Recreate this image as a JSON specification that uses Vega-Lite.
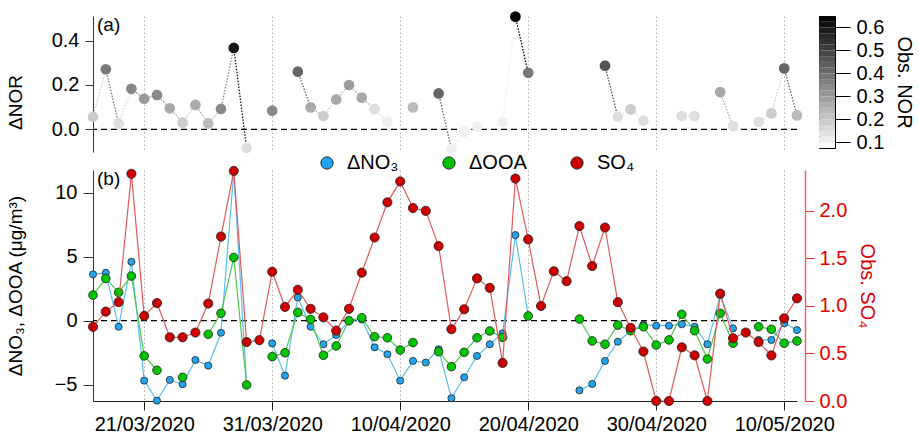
{
  "$schema": "https://vega.github.io/schema/vega-lite/v6.json",
  "autosize": "none",
  "padding": {"left": 93, "top": 16, "right": 826, "bottom": 421},
  "bounds": "flush",
  "columns": 2,
  "spacing": {"row": 18, "column": 22},
  "config": {
    "font": "Liberation Sans",
    "view": {"stroke": null},
    "axis": {"labelFontSize": 20, "titleFontSize": 19, "titleFontWeight": "normal", "labelColor": "#000", "titleColor": "#000", "domainColor": "#333", "tickColor": "#333"},
    "legend": {"labelFontSize": 20, "titleFontSize": 20, "titleFontWeight": "normal", "labelColor": "#000", "titleColor": "#000"}
  },
  "datasets": {
    "nor": [
      {"date": "2020-03-17", "nor": 0.057, "obs": 0.19},
      {"date": "2020-03-18", "nor": 0.271, "obs": 0.38},
      {"date": "2020-03-19", "nor": 0.027, "obs": 0.15},
      {"date": "2020-03-20", "nor": 0.183, "obs": 0.345},
      {"date": "2020-03-21", "nor": 0.138, "obs": 0.305},
      {"date": "2020-03-22", "nor": 0.155, "obs": 0.34},
      {"date": "2020-03-23", "nor": 0.095, "obs": 0.27},
      {"date": "2020-03-24", "nor": 0.03, "obs": 0.19},
      {"date": "2020-03-25", "nor": 0.11, "obs": 0.27},
      {"date": "2020-03-26", "nor": 0.027, "obs": 0.23},
      {"date": "2020-03-27", "nor": 0.092, "obs": 0.34},
      {"date": "2020-03-28", "nor": 0.367, "obs": 0.61},
      {"date": "2020-03-29", "nor": -0.083, "obs": 0.15},
      {"date": "2020-03-30", "nor": null},
      {"date": "2020-03-31", "nor": 0.084, "obs": 0.34},
      {"date": "2020-04-01", "nor": null},
      {"date": "2020-04-02", "nor": 0.26, "obs": 0.42},
      {"date": "2020-04-03", "nor": 0.099, "obs": 0.27},
      {"date": "2020-04-04", "nor": 0.06, "obs": 0.19},
      {"date": "2020-04-05", "nor": 0.135, "obs": 0.27},
      {"date": "2020-04-06", "nor": 0.2, "obs": 0.3},
      {"date": "2020-04-07", "nor": 0.143, "obs": 0.27},
      {"date": "2020-04-08", "nor": 0.092, "obs": 0.15},
      {"date": "2020-04-09", "nor": 0.034, "obs": 0.11},
      {"date": "2020-04-10", "nor": null},
      {"date": "2020-04-11", "nor": 0.099, "obs": 0.23},
      {"date": "2020-04-12", "nor": null},
      {"date": "2020-04-13", "nor": 0.162, "obs": 0.42},
      {"date": "2020-04-14", "nor": -0.089, "obs": 0.11},
      {"date": "2020-04-15", "nor": -0.011, "obs": 0.11},
      {"date": "2020-04-16", "nor": 0.012, "obs": 0.11},
      {"date": "2020-04-17", "nor": null},
      {"date": "2020-04-18", "nor": 0.034, "obs": 0.11},
      {"date": "2020-04-19", "nor": 0.508, "obs": 0.65},
      {"date": "2020-04-20", "nor": 0.255, "obs": 0.38},
      {"date": "2020-04-21", "nor": null},
      {"date": "2020-04-22", "nor": null},
      {"date": "2020-04-23", "nor": null},
      {"date": "2020-04-24", "nor": null},
      {"date": "2020-04-25", "nor": null},
      {"date": "2020-04-26", "nor": 0.287, "obs": 0.46},
      {"date": "2020-04-27", "nor": 0.057, "obs": 0.15},
      {"date": "2020-04-28", "nor": 0.09, "obs": 0.19},
      {"date": "2020-04-29", "nor": 0.039, "obs": 0.15},
      {"date": "2020-04-30", "nor": null},
      {"date": "2020-05-01", "nor": null},
      {"date": "2020-05-02", "nor": 0.06, "obs": 0.15},
      {"date": "2020-05-03", "nor": 0.06, "obs": 0.15},
      {"date": "2020-05-04", "nor": null},
      {"date": "2020-05-05", "nor": 0.168, "obs": 0.27},
      {"date": "2020-05-06", "nor": 0.015, "obs": 0.15},
      {"date": "2020-05-07", "nor": null},
      {"date": "2020-05-08", "nor": 0.034, "obs": 0.15},
      {"date": "2020-05-09", "nor": 0.072, "obs": 0.19},
      {"date": "2020-05-10", "nor": 0.275, "obs": 0.42},
      {"date": "2020-05-11", "nor": 0.063, "obs": 0.23}
    ],
    "cbar": [
      {"lo": 0.075, "hi": 0.1, "c": 0.0875},
      {"lo": 0.1, "hi": 0.125, "c": 0.1125},
      {"lo": 0.125, "hi": 0.15, "c": 0.1375},
      {"lo": 0.15, "hi": 0.175, "c": 0.1625},
      {"lo": 0.175, "hi": 0.2, "c": 0.1875},
      {"lo": 0.2, "hi": 0.225, "c": 0.2125},
      {"lo": 0.225, "hi": 0.25, "c": 0.2375},
      {"lo": 0.25, "hi": 0.275, "c": 0.2625},
      {"lo": 0.275, "hi": 0.3, "c": 0.2875},
      {"lo": 0.3, "hi": 0.325, "c": 0.3125},
      {"lo": 0.325, "hi": 0.35, "c": 0.3375},
      {"lo": 0.35, "hi": 0.375, "c": 0.3625},
      {"lo": 0.375, "hi": 0.4, "c": 0.3875},
      {"lo": 0.4, "hi": 0.425, "c": 0.4125},
      {"lo": 0.425, "hi": 0.45, "c": 0.4375},
      {"lo": 0.45, "hi": 0.475, "c": 0.4625},
      {"lo": 0.475, "hi": 0.5, "c": 0.4875},
      {"lo": 0.5, "hi": 0.525, "c": 0.5125},
      {"lo": 0.525, "hi": 0.55, "c": 0.5375},
      {"lo": 0.55, "hi": 0.575, "c": 0.5625},
      {"lo": 0.575, "hi": 0.6, "c": 0.5875},
      {"lo": 0.6, "hi": 0.625, "c": 0.6125},
      {"lo": 0.625, "hi": 0.65, "c": 0.6375}
    ],
    "aer": [
      {"date": "2020-03-17", "no3": 3.62, "ooa": 2.0, "so4": 0.78},
      {"date": "2020-03-18", "no3": 3.74, "ooa": 3.3, "so4": 0.94},
      {"date": "2020-03-19", "no3": -0.47, "ooa": 2.21, "so4": 1.04},
      {"date": "2020-03-20", "no3": 4.6, "ooa": 3.49, "so4": 2.39},
      {"date": "2020-03-21", "no3": -4.68, "ooa": -2.75, "so4": 0.895},
      {"date": "2020-03-22", "no3": -6.24, "ooa": -3.87, "so4": 1.03},
      {"date": "2020-03-23", "no3": -4.62, "ooa": null, "so4": 0.67},
      {"date": "2020-03-24", "no3": -4.96, "ooa": -4.42, "so4": 0.67},
      {"date": "2020-03-25", "no3": -3.07, "ooa": null, "so4": 0.72},
      {"date": "2020-03-26", "no3": -3.51, "ooa": -1.06, "so4": 1.025},
      {"date": "2020-03-27", "no3": -0.94, "ooa": 0.58, "so4": 1.73},
      {"date": "2020-03-28", "no3": 11.65, "ooa": 4.94, "so4": 2.42},
      {"date": "2020-03-29", "no3": -5.0, "ooa": -5.02, "so4": 0.62},
      {"date": "2020-03-30", "no3": null, "ooa": null, "so4": 0.64},
      {"date": "2020-03-31", "no3": -1.77, "ooa": -2.8, "so4": 1.36},
      {"date": "2020-04-01", "no3": -4.29, "ooa": -2.5, "so4": 0.99},
      {"date": "2020-04-02", "no3": 1.82, "ooa": 0.65, "so4": 1.17},
      {"date": "2020-04-03", "no3": -0.47, "ooa": 0.1, "so4": 0.97},
      {"date": "2020-04-04", "no3": -1.84, "ooa": -2.7, "so4": 0.88},
      {"date": "2020-04-05", "no3": -1.12, "ooa": -1.97, "so4": 0.74},
      {"date": "2020-04-06", "no3": 0.0, "ooa": 0.0, "so4": 0.97},
      {"date": "2020-04-07", "no3": 0.1, "ooa": 0.23, "so4": 1.35},
      {"date": "2020-04-08", "no3": -2.08, "ooa": -1.25, "so4": 1.72},
      {"date": "2020-04-09", "no3": -2.62, "ooa": -1.33, "so4": 2.09},
      {"date": "2020-04-10", "no3": -4.68, "ooa": -2.29, "so4": 2.31},
      {"date": "2020-04-11", "no3": -3.14, "ooa": -1.71, "so4": 2.03},
      {"date": "2020-04-12", "no3": -3.27, "ooa": null, "so4": 2.0},
      {"date": "2020-04-13", "no3": -2.23, "ooa": -2.42, "so4": 1.63},
      {"date": "2020-04-14", "no3": -6.05, "ooa": -3.59, "so4": 0.755},
      {"date": "2020-04-15", "no3": -4.42, "ooa": -2.47, "so4": 0.965},
      {"date": "2020-04-16", "no3": -2.75, "ooa": -1.33, "so4": 1.29},
      {"date": "2020-04-17", "no3": -1.84, "ooa": -0.8, "so4": 1.19},
      {"date": "2020-04-18", "no3": -0.99, "ooa": -1.3, "so4": 0.4},
      {"date": "2020-04-19", "no3": 6.69, "ooa": null, "so4": 2.34},
      {"date": "2020-04-20", "no3": 0.4, "ooa": 0.37, "so4": 1.7},
      {"date": "2020-04-21", "no3": null, "ooa": null, "so4": 1.0},
      {"date": "2020-04-22", "no3": null, "ooa": null, "so4": 1.365},
      {"date": "2020-04-23", "no3": null, "ooa": null, "so4": 1.26},
      {"date": "2020-04-24", "no3": -5.44, "ooa": 0.13, "so4": 1.84},
      {"date": "2020-04-25", "no3": -4.94, "ooa": -1.58, "so4": 1.42},
      {"date": "2020-04-26", "no3": -3.14, "ooa": -1.84, "so4": 1.825},
      {"date": "2020-04-27", "no3": -1.64, "ooa": -0.34, "so4": 1.04},
      {"date": "2020-04-28", "no3": -0.8, "ooa": -0.78, "so4": 0.77},
      {"date": "2020-04-29", "no3": -0.3, "ooa": -0.47, "so4": 0.52},
      {"date": "2020-04-30", "no3": -0.39, "ooa": -1.9, "so4": 0.0},
      {"date": "2020-05-01", "no3": -0.39, "ooa": -1.5, "so4": 0.0},
      {"date": "2020-05-02", "no3": -0.28, "ooa": 0.5, "so4": 0.565},
      {"date": "2020-05-03", "no3": -0.47, "ooa": -0.78, "so4": 0.48},
      {"date": "2020-05-04", "no3": -1.84, "ooa": -2.99, "so4": 0.0},
      {"date": "2020-05-05", "no3": 2.0, "ooa": 0.58, "so4": 1.13},
      {"date": "2020-05-06", "no3": -0.6, "ooa": -1.76, "so4": 0.66},
      {"date": "2020-05-07", "no3": null, "ooa": null, "so4": 0.72},
      {"date": "2020-05-08", "no3": -1.5, "ooa": -0.47, "so4": 0.62},
      {"date": "2020-05-09", "no3": -1.5, "ooa": -0.67, "so4": 0.48},
      {"date": "2020-05-10", "no3": -0.2, "ooa": -1.76, "so4": 0.87},
      {"date": "2020-05-11", "no3": -0.73, "ooa": -1.58, "so4": 1.08}
    ]
  },
  "concat": [
    {
      "width": 704,
      "height": 136,
      "data": {"name": "nor"},
      "layer": [
        {
          "data": {"values": [{}]},
          "mark": {"type": "rule", "strokeDash": [6, 4], "color": "#000", "strokeWidth": 1.2},
          "encoding": {"y": {"datum": 0, "type": "quantitative", "scale": {"domain": [-0.102, 0.511], "nice": false, "zero": false}}}
        },
        {
          "transform": [
            {"window": [{"op": "lead", "field": "nor", "as": "next_nor"}, {"op": "lead", "field": "date", "as": "next_date"}], "sort": [{"field": "date"}]},
            {"filter": "datum.nor != null && datum.next_nor != null"}
          ],
          "mark": {"type": "rule", "strokeDash": [1.5, 1.5], "strokeWidth": 1.3},
          "encoding": {
            "x": {"field": "date", "type": "temporal", "scale": {"type": "utc", "domain": [{"year": 2020, "month": 3, "date": 17, "utc": true}, {"year": 2020, "month": 5, "date": 11, "utc": true}]}, "axis": {"title": null, "labels": false, "ticks": false, "domain": false, "grid": true, "gridDash": [1.5, 2.5], "gridColor": "#b0b0b0", "values": [{"year": 2020, "month": 3, "date": 21, "utc": true}, {"year": 2020, "month": 3, "date": 31, "utc": true}, {"year": 2020, "month": 4, "date": 10, "utc": true}, {"year": 2020, "month": 4, "date": 20, "utc": true}, {"year": 2020, "month": 4, "date": 30, "utc": true}, {"year": 2020, "month": 5, "date": 10, "utc": true}]}},
            "x2": {"field": "next_date"},
            "y": {"field": "nor", "type": "quantitative", "scale": {"domain": [-0.102, 0.511], "nice": false, "zero": false}, "axis": {"title": "ΔNOR", "values": [0, 0.2, 0.4], "format": ".1f", "tickSize": 8, "labelPadding": 6, "titleX": -78, "titleY": 86, "titleBaseline": "middle", "grid": false}},
            "y2": {"field": "next_nor"},
            "color": {"field": "obs", "type": "quantitative", "scale": {"domain": [0.075, 0.65], "range": ["#ffffff", "#000000"], "interpolate": "rgb"}, "legend": null}
          }
        },
        {
          "mark": {"type": "point", "filled": true, "size": 115, "opacity": 1, "shape": "circle"},
          "encoding": {
            "x": {"field": "date", "type": "temporal", "scale": {"type": "utc", "domain": [{"year": 2020, "month": 3, "date": 17, "utc": true}, {"year": 2020, "month": 5, "date": 11, "utc": true}]}},
            "y": {"field": "nor", "type": "quantitative", "scale": {"domain": [-0.102, 0.511], "nice": false, "zero": false}},
            "color": {"field": "obs", "type": "quantitative", "scale": {"domain": [0.075, 0.65], "range": ["#ffffff", "#000000"], "interpolate": "rgb"}, "legend": null}
          }
        },
        {
          "data": {"values": [{"t": "(a)"}]},
          "mark": {"type": "text", "align": "left", "baseline": "top", "dx": 4, "dy": 0, "fontSize": 19},
          "encoding": {
            "text": {"field": "t"},
            "x": {"datum": {"year": 2020, "month": 3, "date": 17, "utc": true}, "type": "temporal"},
            "y": {"datum": 0.511, "type": "quantitative"}
          }
        }
      ]
    },
    {
      "width": 16,
      "height": 132,
      "view": {"stroke": "#000", "strokeWidth": 1},
      "data": {"name": "cbar"},
      "mark": {"type": "rect"},
      "encoding": {
        "y": {"field": "lo", "type": "quantitative", "scale": {"domain": [0.075, 0.65], "nice": false, "zero": false}, "axis": {"orient": "right", "title": "Obs. NOR", "titleFontSize": 20, "values": [0.1, 0.2, 0.3, 0.4, 0.5, 0.6], "format": ".1f", "tickSize": 15, "tickColor": "#000", "labelPadding": 6, "domain": false, "titlePadding": 10, "grid": false}},
        "y2": {"field": "hi"},
        "color": {"field": "c", "type": "quantitative", "scale": {"domain": [0.075, 0.65], "range": ["#ffffff", "#000000"], "interpolate": "rgb"}, "legend": null}
      }
    },
    {
      "width": 704,
      "height": 231,
      "data": {"name": "aer"},
      "layer": [
        {
          "layer": [
            {
              "data": {"values": [{}]},
              "mark": {"type": "rule", "strokeDash": [6, 4], "color": "#000", "strokeWidth": 1.2},
              "encoding": {"y": {"datum": 0, "type": "quantitative", "scale": {"domain": [-6.27, 11.77], "nice": false, "zero": false}}}
            },
            {
              "mark": {"type": "line", "color": "#5cbdf2", "strokeWidth": 1.2, "invalid": "break-paths-show-domains"},
              "encoding": {
                "x": {"field": "date", "type": "temporal", "scale": {"type": "utc", "domain": [{"year": 2020, "month": 3, "date": 17, "utc": true}, {"year": 2020, "month": 5, "date": 11, "utc": true}]}, "axis": {"title": null, "labelExpr": "utcFormat(datum.value, '%d/%m/%Y')", "tickSize": 9, "labelPadding": 4, "domainColor": "#222", "tickColor": "#222", "grid": true, "gridDash": [1.5, 2.5], "gridColor": "#b0b0b0", "values": [{"year": 2020, "month": 3, "date": 21, "utc": true}, {"year": 2020, "month": 3, "date": 31, "utc": true}, {"year": 2020, "month": 4, "date": 10, "utc": true}, {"year": 2020, "month": 4, "date": 20, "utc": true}, {"year": 2020, "month": 4, "date": 30, "utc": true}, {"year": 2020, "month": 5, "date": 10, "utc": true}]}},
                "y": {"field": "no3", "type": "quantitative", "title": "ΔNO₃, ΔOOA (μg/m³)", "scale": {"domain": [-6.27, 11.77], "nice": false, "zero": false}, "axis": {"title": "ΔNO₃, ΔOOA (μg/m³)", "values": [-5, 0, 5, 10], "tickSize": 10, "labelPadding": 6, "titleX": -78, "titleBaseline": "middle", "grid": false}}
              }
            },
            {
              "mark": {"type": "point", "filled": true, "opacity": 1, "shape": "circle", "size": 50, "stroke": "#222", "strokeWidth": 0.8},
              "encoding": {
                "x": {"field": "date", "type": "temporal", "scale": {"type": "utc", "domain": [{"year": 2020, "month": 3, "date": 17, "utc": true}, {"year": 2020, "month": 5, "date": 11, "utc": true}]}},
                "y": {"field": "no3", "type": "quantitative", "title": "ΔNO₃, ΔOOA (μg/m³)", "scale": {"domain": [-6.27, 11.77], "nice": false, "zero": false}},
                "fill": {"datum": "ΔNO₃", "type": "nominal", "scale": {"domain": ["ΔNO₃", "ΔOOA", "SO₄"], "range": ["#22a5f0", "#00c400", "#cc0000"]}, "legend": {"title": null, "orient": "none", "legendX": 224, "legendY": -17, "direction": "horizontal", "symbolType": "circle", "symbolSize": 150, "symbolStrokeColor": "#222", "symbolStrokeWidth": 1, "symbolOpacity": 1, "labelFontSize": 20, "columnPadding": 40, "labelOffset": 10}}
              }
            },
            {
              "mark": {"type": "line", "color": "#4cc94c", "strokeWidth": 1.2, "invalid": "break-paths-show-domains"},
              "encoding": {
                "x": {"field": "date", "type": "temporal", "scale": {"type": "utc", "domain": [{"year": 2020, "month": 3, "date": 17, "utc": true}, {"year": 2020, "month": 5, "date": 11, "utc": true}]}},
                "y": {"field": "ooa", "type": "quantitative", "title": "ΔNO₃, ΔOOA (μg/m³)", "scale": {"domain": [-6.27, 11.77], "nice": false, "zero": false}}
              }
            },
            {
              "mark": {"type": "point", "filled": true, "opacity": 1, "shape": "circle", "size": 75, "stroke": "#222", "strokeWidth": 0.8},
              "encoding": {
                "x": {"field": "date", "type": "temporal", "scale": {"type": "utc", "domain": [{"year": 2020, "month": 3, "date": 17, "utc": true}, {"year": 2020, "month": 5, "date": 11, "utc": true}]}},
                "y": {"field": "ooa", "type": "quantitative", "title": "ΔNO₃, ΔOOA (μg/m³)", "scale": {"domain": [-6.27, 11.77], "nice": false, "zero": false}},
                "fill": {"datum": "ΔOOA", "type": "nominal"}
              }
            },
            {
              "data": {"values": [{"t": "(b)"}]},
              "mark": {"type": "text", "align": "left", "baseline": "top", "dx": 4, "dy": 0, "fontSize": 19},
              "encoding": {
                "text": {"field": "t"},
                "x": {"datum": {"year": 2020, "month": 3, "date": 17, "utc": true}, "type": "temporal"},
                "y": {"datum": 11.77, "type": "quantitative"}
              }
            }
          ]
        },
        {
          "layer": [
            {
              "mark": {"type": "line", "color": "#e05a5a", "strokeWidth": 1.2, "invalid": "break-paths-show-domains"},
              "encoding": {
                "x": {"field": "date", "type": "temporal", "scale": {"type": "utc", "domain": [{"year": 2020, "month": 3, "date": 17, "utc": true}, {"year": 2020, "month": 5, "date": 11, "utc": true}]}},
                "y": {"field": "so4", "type": "quantitative", "title": "Obs. SO₄", "scale": {"domain": [0, 2.43], "nice": false, "zero": false}, "axis": {"orient": "right", "title": "Obs. SO₄", "values": [0, 0.5, 1, 1.5, 2], "format": ".1f", "offset": 8, "tickSize": 9, "labelPadding": 5, "domainColor": "#e06868", "domainWidth": 1.5, "tickColor": "#e03030", "labelColor": "#e00000", "titleColor": "#e00000", "titleFontSize": 20, "titlePadding": 10, "grid": false}}
              }
            },
            {
              "mark": {"type": "point", "filled": true, "opacity": 1, "shape": "circle", "size": 85, "stroke": "#222", "strokeWidth": 0.8},
              "encoding": {
                "x": {"field": "date", "type": "temporal", "scale": {"type": "utc", "domain": [{"year": 2020, "month": 3, "date": 17, "utc": true}, {"year": 2020, "month": 5, "date": 11, "utc": true}]}},
                "y": {"field": "so4", "type": "quantitative", "title": "Obs. SO₄", "scale": {"domain": [0, 2.43], "nice": false, "zero": false}},
                "fill": {"datum": "SO₄", "type": "nominal"}
              }
            }
          ]
        }
      ],
      "resolve": {"scale": {"y": "independent"}}
    }
  ],
  "resolve": {"scale": {"color": "independent", "fill": "independent", "y": "independent", "x": "independent"}, "legend": {"color": "independent", "fill": "independent"}}
}
